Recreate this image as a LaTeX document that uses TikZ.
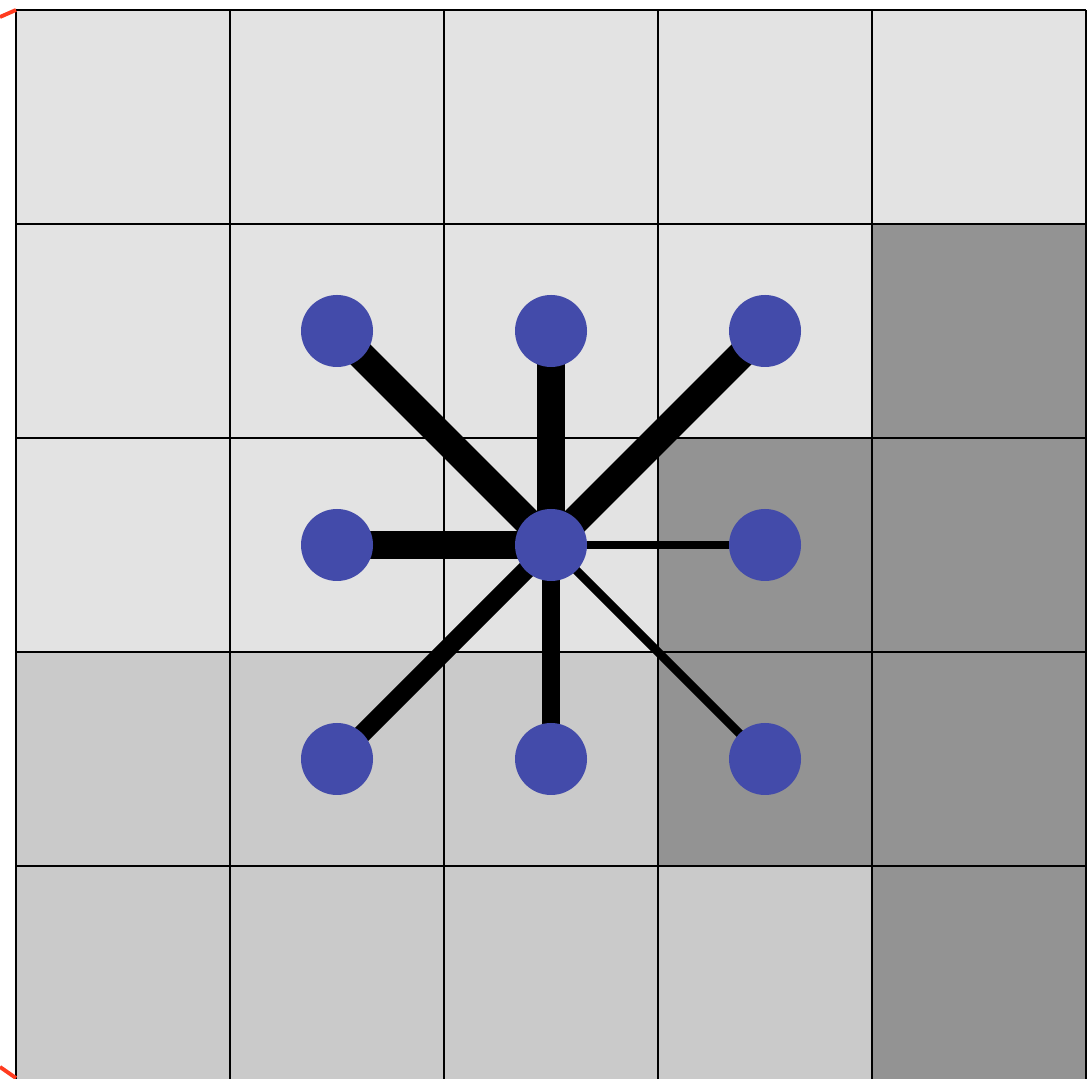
\documentclass[tikz,border=0pt]{standalone}
\definecolor{celllight}{RGB}{227,227,227}
\definecolor{cellmid}{RGB}{202,202,202}
\definecolor{celldark}{RGB}{147,147,147}
\definecolor{nodeblue}{RGB}{67,75,170}
\definecolor{edgered}{RGB}{255,59,31}
\usetikzlibrary{backgrounds}

\begin{document}
\begin{tikzpicture}[x=2.14cm, y=-2.14cm,
  pix/.style={circle, fill=nodeblue, minimum size=0.72cm, inner sep=0pt},
  link/.style={line width=#1}]
\useasboundingbox (-0.0748,-0.0467) rectangle (5.028,4.991);
% Pixels (neighbourhood of the centre cell)
\node[pix] (c)  at (2.5,2.5) {};
\node[pix] (nw) at (1.5,1.5) {};
\node[pix] (n)  at (2.5,1.5) {};
\node[pix] (ne) at (3.5,1.5) {};
\node[pix] (w)  at (1.5,2.5) {};
\node[pix] (e)  at (3.5,2.5) {};
\node[pix] (sw) at (1.5,3.5) {};
\node[pix] (s)  at (2.5,3.5) {};
\node[pix] (se) at (3.5,3.5) {};
\begin{scope}[on background layer]
% Image cells
\fill[celllight] (0,0) rectangle (5,5);
\fill[cellmid] (0,3) rectangle (4,5);
\fill[celldark] (4,1) -- (5,1) -- (5,5) -- (4,5) -- (4,4) -- (3,4) -- (3,2) -- (4,2) -- cycle;
\foreach \k in {0,...,5} {
  \draw[line width=0.75pt] (\k,0) -- (\k,5);
  \draw[line width=0.75pt] (0,\k) -- (5,\k);
}
% Weighted edges
\foreach \nb/\w in {nw/8pt, n/8pt, ne/8pt, w/7.7pt, e/2.5pt, sw/5.3pt, s/5pt, se/2.5pt}
  \draw[link=\w] (c.center) -- (\nb.center);
\end{scope}
% Cut-off outline on the left
\draw[edgered, line width=1.1pt] (0,0) -- (-0.0748,0.0327);
\draw[edgered, line width=1.1pt] (0,4.991) -- (-0.0748,4.939);
\end{tikzpicture}
\end{document}
